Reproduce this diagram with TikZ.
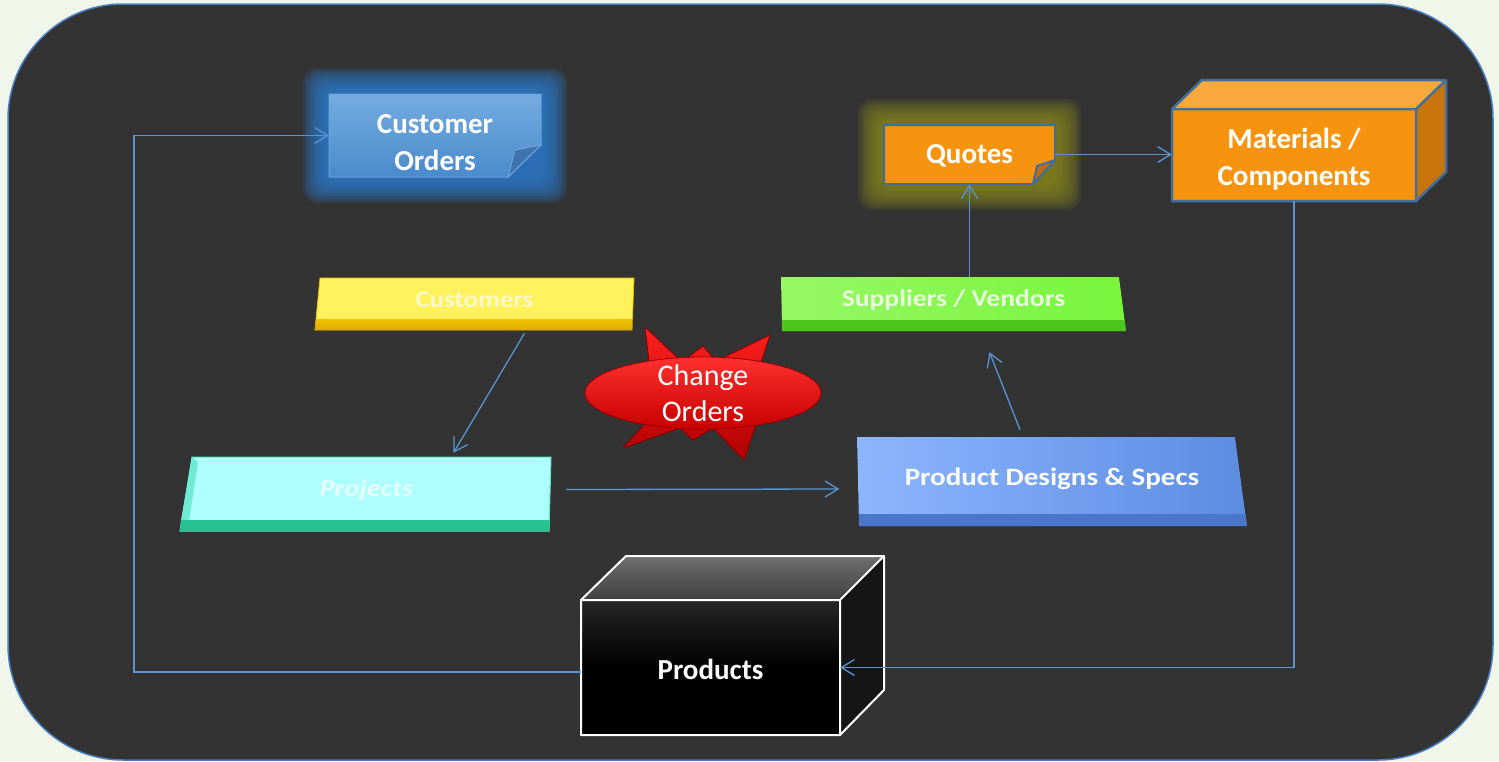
\documentclass[tikz,border=0pt]{standalone}
\usepackage{fontspec}
\setmainfont{Carlito}
\usetikzlibrary{arrows.meta,shapes.geometric,calc}
\definecolor{bgout}{HTML}{F0F6EA}
\definecolor{panel}{HTML}{333333}
\definecolor{panelline}{HTML}{4A7EC0}
\definecolor{connc}{HTML}{5A93D2}
\definecolor{coglow}{HTML}{2C7ACB}
\definecolor{quglow}{HTML}{88881E}
\definecolor{cotop}{HTML}{74ACE0}
\definecolor{cobot}{HTML}{4A8ACB}
\definecolor{coline}{HTML}{6CA4DC}
\definecolor{cofold}{HTML}{3F74AE}
\definecolor{orangef}{HTML}{F7940F}
\definecolor{orangetop}{HTML}{F9A83D}
\definecolor{orangeside}{HTML}{C8750C}
\definecolor{orangefold}{HTML}{C46A0C}
\definecolor{boxline}{HTML}{41719C}
\definecolor{quline}{HTML}{3A6EA5}
\definecolor{cusface}{HTML}{FFF25C}
\definecolor{cusedge}{HTML}{F2C200}
\definecolor{cusbevtop}{HTML}{F0C400}
\definecolor{cusbevbot}{HTML}{DDA800}
\definecolor{custext}{HTML}{FFF8C8}
\definecolor{supleft}{HTML}{96F865}
\definecolor{supright}{HTML}{78F53C}
\definecolor{supbevel}{HTML}{4CC51F}
\definecolor{suptext}{HTML}{E8FFDC}
\definecolor{prjface}{HTML}{AEFFFF}
\definecolor{prjedge}{HTML}{5EE8C0}
\definecolor{prjleft}{HTML}{6EEBD2}
\definecolor{prjbevel}{HTML}{28C290}
\definecolor{prjtext}{HTML}{E6FFFF}
\definecolor{pdsleft}{HTML}{8DB6FF}
\definecolor{pdsright}{HTML}{5C8CE0}
\definecolor{pdsbevel}{HTML}{4A77C9}
\definecolor{prdtop}{HTML}{6E6E6E}
\definecolor{prdtopb}{HTML}{404040}
\definecolor{prdfront}{HTML}{262626}
\definecolor{prdside}{HTML}{151515}
\definecolor{startop}{HTML}{FF2020}
\definecolor{starbot}{HTML}{B00000}
\definecolor{starline}{HTML}{8A0000}
\definecolor{elltop}{HTML}{FF3030}
\definecolor{ellmid}{HTML}{FF0000}
\definecolor{ellbot}{HTML}{C80000}
\definecolor{ellline}{HTML}{A00000}
\begin{document}
\begin{tikzpicture}[x=1pt,y=-1pt,
  tag/.style={inner sep=0pt, text=white, align=center},
  big/.style={font=\bfseries\fontsize{29}{37}\selectfont},
  barfont/.style={font=\bfseries\fontsize{24}{28}\selectfont},
  conn/.style={draw=connc, line width=1.3pt, -{Straight Barb[length=13pt,width=16pt]}},
  wline/.style={draw=white, line width=2pt, line join=round},
  oline/.style={draw=boxline, line width=2.5pt, line join=round}]
\useasboundingbox (0,0) rectangle (1499,761);
\fill[bgout] (0,0) rectangle (1499,761);
\filldraw[fill=panel, draw=panelline, line width=1.5pt, rounded corners=115pt] (8,4) rectangle (1493,760);

% glows
\foreach \r in {2,4,...,26}{
  \fill[coglow, fill opacity=0.15, rounded corners=14pt] ({329-\r},{94-\r}) rectangle ({541+\r},{177+\r});
  \fill[quglow, fill opacity=0.13, rounded corners=14pt] ({884-\r},{125-\r}) rectangle ({1055+\r},{184+\r});
}

% Customer Orders note
\filldraw[top color=cotop, bottom color=cobot, draw=coline, line width=1pt]
  (329,94) -- (541,94) -- (541,145) -- (508,177) -- (329,177) -- cycle;
\filldraw[fill=cofold, draw=coline, line width=1pt] (508,177) -- (515,150) -- (541,145) -- cycle;

% Quotes note
\filldraw[fill=orangef, draw=quline, line width=2pt, line join=round]
  (884,125) -- (1055,125) -- (1055,160) -- (1033,184) -- (884,184) -- cycle;
\filldraw[fill=orangefold, draw=quline, line width=2pt, line join=round] (1033,184) -- (1037,166) -- (1055,160) -- cycle;

% Materials box
\fill[orangetop] (1172,109) -- (1202,80) -- (1446,80) -- (1416,109) -- cycle;
\fill[orangeside] (1416,109) -- (1446,80) -- (1446,172) -- (1416,201) -- cycle;
\fill[orangef] (1172,109) rectangle (1416,201);
\draw[oline] (1172,109) -- (1202,80) -- (1446,80) -- (1446,172) -- (1416,201) -- (1172,201) -- cycle;
\draw[oline] (1172,109) -- (1416,109) -- (1446,80) (1416,109) -- (1416,201);

% Customers bar
\filldraw[fill=cusface, draw=cusedge, line width=0.8pt] (320,278) -- (634,278) -- (632,330) -- (315,330) -- cycle;
\fill[top color=cusbevtop, bottom color=cusbevbot] (316,319) -- (632.5,319) -- (632,330) -- (315,330) -- cycle;

% Suppliers bar
\fill[left color=supleft, right color=supright] (781,277) -- (1119,277) -- (1126,331) -- (782,331) -- cycle;
\fill[supbevel] (782,320) -- (1124.5,320) -- (1126,331) -- (782,331) -- cycle;

% Projects bar
\filldraw[fill=prjface, draw=prjedge, line width=1pt] (192,457) -- (551,457) -- (549,531) -- (180,531) -- cycle;
\fill[prjleft] (192,457) -- (198,462) -- (189,521) -- (181,521) -- cycle;
\fill[prjbevel] (181,520) -- (549.5,520) -- (549,531) -- (180,531) -- cycle;

% Product Designs bar
\fill[left color=pdsleft, right color=pdsright] (857,437) -- (1235,437) -- (1247,526) -- (859,526) -- cycle;
\fill[pdsbevel] (859,514) -- (1245.4,514) -- (1247,526) -- (859,526) -- cycle;

% Products box
\fill[top color=prdtop, bottom color=prdtopb] (581,600) -- (626,556) -- (884,556) -- (840,600) -- cycle;
\fill[prdside] (840,600) -- (884,556) -- (884,690) -- (840,735) -- cycle;
\fill[top color=prdfront, bottom color=black, middle color=black] (581,600) rectangle (840,735);
\draw[wline] (581,600) -- (626,556) -- (884,556) -- (884,690) -- (840,735) -- (581,735) -- cycle;
\draw[wline] (581,600) -- (840,600) -- (884,556) (840,600) -- (840,735);

% Change Orders star and ellipse
\filldraw[top color=startop, bottom color=starbot, draw=starline, line width=0.8pt, line join=round]
  (645,327) -- (682,362) -- (703,346) -- (716,361) -- (770,335) -- (758,372) -- (818,395)
  -- (758,418) -- (744,460) -- (713,428) -- (693,440) -- (680,428) -- (623,448) -- (652,416)
  -- (588,392) -- (650,370) -- cycle;
\filldraw[top color=elltop, middle color=ellmid, bottom color=ellbot, draw=ellline, line width=0.8pt]
  (703,393) ellipse [x radius=118, y radius=36];

% nodes
\node[tag,big,minimum width=212pt,minimum height=83pt,text height=74pt,text depth=5pt] (co) at (435,135.5) {Customer\\Orders};
\node[tag,big,minimum width=171pt,minimum height=59pt,text height=23.5pt,text depth=6.5pt] (qu) at (969.5,154.5) {Quotes};
\node[tag,big,minimum width=244pt,minimum height=92pt,text height=62pt,text depth=2pt] (mat) at (1294,155) {Materials /\\Components};
\node[tag,big,minimum width=259pt,minimum height=135pt,text height=26.5pt,text depth=3.5pt] (prd) at (710.5,667.5) {Products};
\node[tag,barfont,text=custext,minimum width=317pt,minimum height=52pt,text height=18pt,text depth=12pt] (cus) at (474.5,304) {\scalebox{1.12}[1]{Customers}};
\node[tag,barfont,text=suptext,minimum width=345pt,minimum height=54pt,text height=17pt,text depth=13pt] (sup) at (953.5,304) {\scalebox{1.15}[1]{Suppliers / Vendors}};
\node[tag,font=\bfseries\itshape\fontsize{24}{28}\selectfont,text=prjtext,minimum width=371pt,minimum height=74pt,text height=17.5pt,text depth=12.5pt] (prj) at (366.5,494) {\scalebox{1.18}[1]{Projects}};
\node[tag,font=\bfseries\fontsize{25}{28}\selectfont,minimum width=391pt,minimum height=89pt,text height=18.5pt,text depth=11.5pt] (pds) at (1052,481.5) {\scalebox{1.16}[1]{Product Designs \& Specs}};
\node[tag,font=\fontsize{30}{36}\selectfont,text height=56pt,text depth=0pt] (chg) at (703,393) {Change\\Orders};

% connectors
\coordinate (c1) at (134,135.5);
\coordinate (p1) at ([yshift=-4.5pt]prd.west);
\draw[conn] (p1) -| (c1) -- (co.west);
\draw[conn] ([xshift=50pt,yshift=-3pt]cus.south) -- ([xshift=87pt,yshift=4pt]prj.north);
\draw[conn] ([xshift=14pt,yshift=4.5pt]prj.east) -- ([xshift=-17pt,yshift=-7.5pt]pds.west);
\draw[conn] ([xshift=-32pt,yshift=7pt]pds.north) -- ([xshift=36pt,yshift=-21pt]sup.south);
\draw[conn] (sup.north -| qu.south) -- (qu.south);
\draw[conn] (qu.east) -- (qu.east -| mat.west);
\draw[conn] (mat.south) |- (prd.east);
\end{tikzpicture}
\end{document}
